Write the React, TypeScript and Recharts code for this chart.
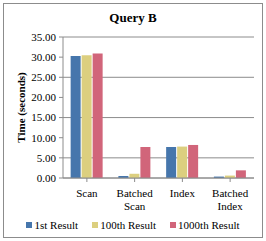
import { BarChart, Bar, XAxis, YAxis, CartesianGrid, Legend } from 'recharts';

const categories = ['Scan', 'Batched Scan', 'Index', 'Batched Index'];
const firstResult = [30.3, 0.5, 7.7, 0.35];
const hundredthResult = [30.5, 1.05, 7.8, 0.6];
const thousandthResult = [30.9, 7.7, 8.2, 1.9];
const yTicks = [0, 5, 10, 15, 20, 25, 30, 35];

const SERIES = [
  { key: 'first', name: '1st Result', color: '#4676AC' },
  { key: 'hundredth', name: '100th Result', color: '#DCCF7F' },
  { key: 'thousandth', name: '1000th Result', color: '#D1657A' },
];

const FONT = '"Liberation Serif", "Times New Roman", serif';

// two-line category labels, split on the space
const CategoryTick = (props: any) => {
  const { x, y, payload } = props;
  const lines = String(payload.value).split(' ');
  return (
    <text x={x} y={y + 13} textAnchor="middle" fontFamily={FONT} fontSize={11} fill="#000">
      {lines.map((line, i) => (
        <tspan key={i} x={x} dy={i === 0 ? 0 : 13}>
          {line}
        </tspan>
      ))}
    </text>
  );
};

const LegendContent = () => (
  <div style={{ display: 'flex', justifyContent: 'center', fontFamily: FONT, fontSize: 11, color: '#000', paddingLeft: 12 }}>
    {SERIES.map((s, i) => (
      <div key={s.key} style={{ display: 'flex', alignItems: 'center', marginLeft: i === 0 ? 0 : 14 }}>
        <span style={{ width: 6, height: 6, background: s.color, marginRight: 2, display: 'inline-block' }} />
        {s.name}
      </div>
    ))}
  </div>
);

export default function App() {
  const chartData = categories.map((name, i) => ({
    name,
    first: firstResult[i],
    hundredth: hundredthResult[i],
    thousandth: thousandthResult[i],
  }));

  return (
    <div style={{ position: 'absolute', left: 0, top: 0, width: 266, height: 241, background: '#fff' }}>
      <div
        style={{
          position: 'absolute',
          left: 3,
          top: 3,
          width: 260,
          height: 235,
          border: '1px solid #8c8c8c',
          boxSizing: 'border-box',
        }}
      />
      <div
        style={{
          position: 'absolute',
          left: 0,
          top: 10,
          width: 266,
          textAlign: 'center',
          fontFamily: FONT,
          fontSize: 13,
          fontWeight: 'bold',
        }}
      >
        Query B
      </div>
      <BarChart
        width={266}
        height={241}
        data={chartData}
        margin={{ top: 37, right: 12, left: 0, bottom: 6 }}
        barCategoryGap="16%"
        barGap={1}
        style={{ position: 'absolute', left: 0, top: 0 }}
      >
        <CartesianGrid vertical={false} stroke="#8c8c8c" />
        <XAxis
          dataKey="name"
          height={41}
          stroke="#8c8c8c"
          tickSize={4}
          tick={<CategoryTick />}
          interval={0}
        />
        <YAxis
          width={63}
          domain={[0, 35]}
          ticks={yTicks}
          tickFormatter={(v: number) => v.toFixed(2)}
          stroke="#8c8c8c"
          tickSize={4}
          tickMargin={3}
          tick={{ fill: '#000', fontFamily: FONT, fontSize: 11 }}
          label={{
            value: 'Time (seconds)',
            angle: -90,
            position: 'center',
            dx: -10,
            style: { fontFamily: FONT, fontSize: 11, fontWeight: 'bold', fill: '#000' },
          }}
        />
        <Legend verticalAlign="bottom" height={16} content={<LegendContent />} />
        {SERIES.map((s) => (
          <Bar key={s.key} dataKey={s.key} name={s.name} fill={s.color} isAnimationActive={false} />
        ))}
      </BarChart>
    </div>
  );
}
